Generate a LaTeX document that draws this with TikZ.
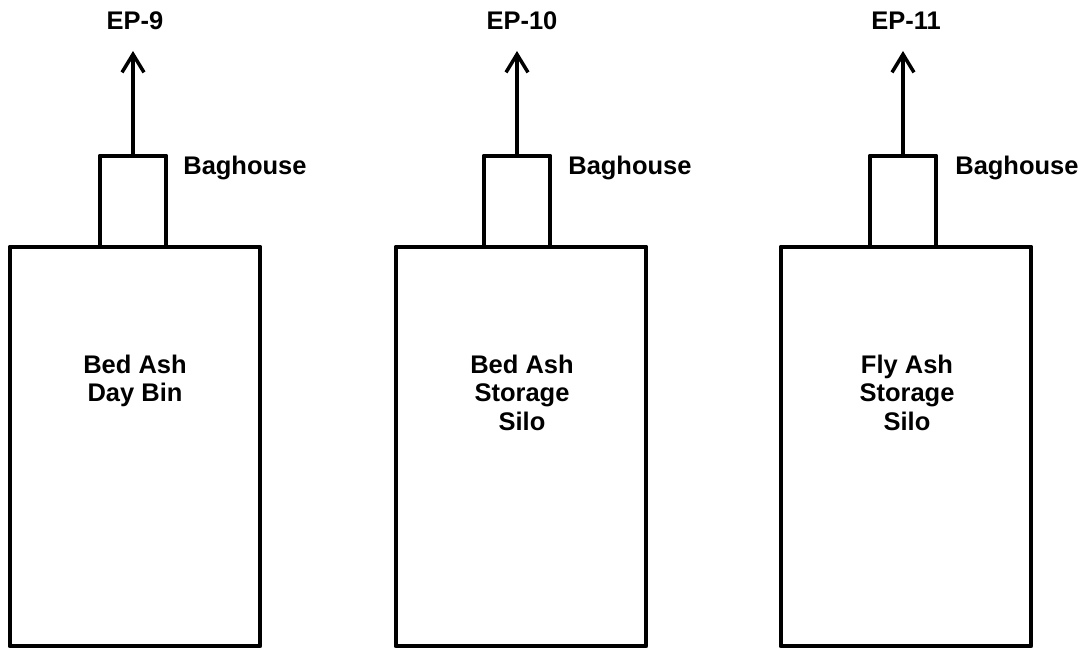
\documentclass[tikz,border=0pt]{standalone}
\usepackage{fontspec}
\setmainfont{Liberation Sans}
\usetikzlibrary{arrows.meta}

\begin{document}
\begin{tikzpicture}[>={Straight Barb[length=3.6mm,width=4.4mm]},
    font=\bfseries\fontsize{14.5}{16}\selectfont,
    bin/.style={draw, line width=2.8pt, line join=round, minimum width=5cm, minimum height=7.98cm, outer sep=0pt},
    bag/.style={draw, line width=2.8pt, line join=round, minimum width=1.32cm, minimum height=1.82cm, outer sep=0pt},
    vent/.style={->, line width=2pt},
    tag/.style={inner sep=0pt, align=center}]
\useasboundingbox (0,0) rectangle (21.78,13);
\node[bin] (bin1) at (2.7, 4.07) {};
\node[bin] (bin2) at (10.42, 4.07) {};
\node[bin] (bin3) at (18.12, 4.07) {};
\node[bag] (bag1) at (2.66, 8.97) {};
\node[bag] (bag2) at (10.34, 8.97) {};
\node[bag] (bag3) at (18.06, 8.97) {};
\coordinate (out1) at (2.66, 11.98);
\coordinate (out2) at (10.34, 11.98);
\coordinate (out3) at (18.06, 11.98);
\draw[vent] (bag1.north) -- (out1);
\draw[vent] (bag2.north) -- (out2);
\draw[vent] (bag3.north) -- (out3);
\node[tag] (ep1) at (2.7, 12.58) {EP-9};
\node[tag] (ep2) at (10.44, 12.58) {EP-10};
\node[tag] (ep3) at (18.12, 12.58) {EP-11};
\node[tag, anchor=west] (bl1) at (3.66, 9.64) {Baghouse};
\node[tag, anchor=west] (bl2) at (11.36, 9.64) {Baghouse};
\node[tag, anchor=west] (bl3) at (19.1, 9.64) {Baghouse};
\node[tag, anchor=north] (name1) at (2.7, 5.9) {Bed Ash\\Day Bin};
\node[tag, anchor=north] (name2) at (10.44, 5.9) {Bed Ash\\Storage\\Silo};
\node[tag, anchor=north] (name3) at (18.14, 5.9) {Fly Ash\\Storage\\Silo};
\end{tikzpicture}
\end{document}
